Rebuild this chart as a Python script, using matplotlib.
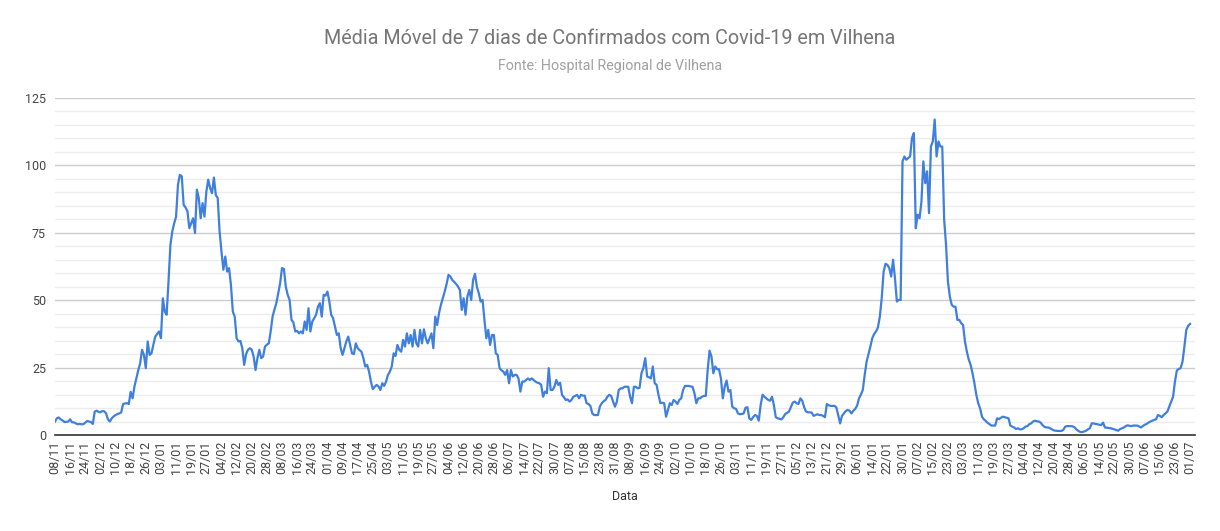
import matplotlib
matplotlib.use('Agg')
import matplotlib.pyplot as plt
import pandas as pd
import numpy as np

plt.rcParams['font.family'] = ['Roboto', 'DejaVu Sans']

# Média móvel de 7 dias, um valor por dia a partir de 08/11/2020
inicio = '2020-11-08'

media_2020 = [
    5.0, 6.2, 6.5, 5.8, 5.4, 4.8, 4.9, 5.0, 5.8, 4.7,
    4.7, 4.3, 4.0, 4.1, 4.0, 4.0, 4.6, 5.2, 5.0, 4.8,
    4.1, 8.7, 9.0, 8.6, 8.4, 8.9, 8.8, 8.0, 5.8, 5.0,
    6.2, 6.9, 7.4, 7.8, 8.0, 8.4, 11.5, 11.7, 11.8, 11.5,
    16.0, 13.6, 18.0, 21.0, 24.0, 26.5, 31.6, 29.7, 24.8, 34.7,
    29.7, 30.3, 33.5, 36.5,
]

media_2021 = [
    37.5, 38.4, 35.9, 50.7, 45.8, 44.6, 57.0, 70.5, 75.5, 78.5,
    81.0, 92.8, 96.5, 96.0, 85.4, 84.4, 83.0, 76.7, 78.6, 80.4,
    74.9, 91.0, 87.9, 80.4, 86.0, 81.0, 90.3, 94.7, 91.6, 89.7,
    95.5, 89.0, 87.9, 75.5, 68.0, 61.3, 66.2, 60.6, 61.9, 55.7,
    45.8, 43.9, 35.9, 34.7, 34.9, 32.2, 26.0, 30.0, 31.6, 32.2,
    31.6, 29.1, 24.1, 28.5, 31.6, 28.5, 29.1, 32.8, 33.5, 34.0,
    38.4, 43.9, 46.5, 48.9, 52.5, 56.3, 61.9, 61.6, 55.0, 52.0,
    50.1, 42.7, 41.8, 38.4, 38.6, 37.7, 38.4, 37.7, 42.1, 39.0,
    47.0, 38.4, 42.1, 43.3, 44.6, 47.6, 48.9, 43.9, 52.0, 51.7,
    53.2, 49.5, 44.6, 43.3, 40.2, 37.1, 37.7, 32.2, 29.7, 32.2,
    34.7, 36.5, 33.4, 30.3, 30.0, 34.0, 32.2, 31.5, 30.9, 28.5,
    25.4, 26.0, 23.5, 19.8, 17.0, 17.9, 18.6, 18.0, 16.7, 19.2,
    18.2, 19.8, 22.3, 23.5, 25.4, 30.3, 29.3, 33.4, 31.6, 30.9,
    35.3, 32.8, 37.7, 34.0, 37.1, 32.8, 39.0, 34.0, 32.8, 39.0,
    34.0, 39.2, 35.9, 34.0, 35.9, 37.7, 32.2, 43.9, 40.8, 45.2,
    48.3, 50.7, 53.2, 56.0, 59.4, 58.8, 57.5, 56.8, 56.0, 55.1,
    53.8, 46.4, 50.7, 44.6, 51.4, 53.8, 50.1, 57.5, 59.8, 55.0,
    52.6, 49.5, 50.1, 42.7, 35.9, 39.0, 33.4, 37.1, 37.1, 30.3,
    29.7, 24.8, 24.0, 23.5, 22.3, 24.1, 19.2, 24.1, 21.7, 22.3,
    22.3, 21.0, 16.1, 19.8, 19.8, 20.4, 21.0, 20.4, 21.0, 20.4,
    19.8, 19.4, 19.2, 18.6, 14.2, 16.1, 15.5, 24.8, 16.7, 16.7,
    17.9, 20.4, 18.6, 19.4, 14.9, 14.0, 13.0, 13.2, 12.4, 13.0,
    14.2, 14.5, 14.9, 13.6, 14.9, 14.6, 14.6, 11.8, 11.5, 10.8,
    8.0, 7.4, 7.4, 7.4, 10.5, 11.8, 12.5, 13.0, 14.2, 14.9,
    14.5, 12.4, 10.5, 12.4, 16.7, 17.3, 17.3, 17.9, 17.9, 17.9,
    14.2, 11.8, 17.9, 17.9, 17.3, 17.5, 22.9, 24.8, 28.5, 21.7,
    21.4, 21.0, 25.4, 19.2, 18.6, 14.9, 11.8, 12.0, 11.8, 6.8,
    9.3, 11.8, 11.1, 13.0, 12.4, 11.5, 13.0, 13.6, 16.7, 18.2,
    18.2, 18.2, 18.0, 17.9, 15.5, 11.8, 13.6, 13.6, 14.2, 14.5,
    14.5, 24.1, 31.3, 29.1, 22.9, 25.4, 24.4, 24.4, 21.0, 13.6,
    17.9, 20.2, 16.1, 16.7, 10.5, 9.9, 9.7, 8.0, 7.7, 7.8,
    8.0, 10.1, 10.3, 6.2, 5.6, 6.6, 7.4, 7.1, 5.3, 11.1,
    14.9, 14.2, 13.6, 13.0, 12.7, 14.2, 11.1, 6.6, 6.2, 6.0,
    5.8, 6.6, 7.8, 8.2, 8.7, 10.3, 12.0, 12.4, 11.8, 11.5,
    13.6, 12.7, 10.3, 8.7, 8.4, 8.4, 8.3, 7.1, 7.4, 7.7,
    7.4, 7.4, 7.1, 6.6, 11.5, 11.0, 10.8, 10.8, 10.8, 10.3,
    7.4, 4.3, 7.1, 8.0, 8.9,
]

media_2022 = [
    9.3, 9.0, 8.0, 9.0, 9.7, 10.9, 13.6, 15.0, 16.7, 22.3,
    27.2, 30.0, 32.8, 35.9, 37.5, 38.4, 39.9, 43.9, 50.7, 60.6,
    63.5, 63.1, 61.9, 58.8, 65.0, 58.2, 49.5, 50.1, 50.1, 101.5,
    103.3, 102.1, 102.7, 103.3, 110.1, 112.0, 76.7, 81.7, 80.4, 86.6,
    101.5, 93.4, 97.8, 82.3, 107.0, 108.9, 117.0, 103.3, 108.9, 107.0,
    107.0, 80.0, 70.5, 56.9, 51.4, 48.3, 47.6, 47.6, 42.7, 42.7,
    41.5, 40.8, 34.7, 30.9, 28.0, 26.0, 22.9, 19.2, 14.9, 11.8,
    9.9, 6.8, 5.8, 5.2, 4.5, 4.0, 3.5, 3.5, 3.5, 6.2,
    5.9, 6.4, 6.8, 6.6, 6.4, 6.2, 3.5, 3.1, 2.8, 2.2,
    2.5, 2.1, 2.1, 2.5, 3.1, 3.3, 4.0, 4.3, 5.0, 5.3,
    5.1, 5.0, 4.6, 3.7, 3.0, 2.8, 2.8, 2.5, 2.1, 1.7,
    1.6, 1.5, 1.5, 1.5, 1.9, 3.1, 3.3, 3.3, 3.3, 3.2,
    2.8, 2.0, 1.5, 1.1, 1.1, 1.3, 1.6, 2.1, 2.5, 4.3,
    4.3, 4.1, 4.0, 3.8, 3.7, 4.6, 2.8, 2.7, 2.6, 2.5,
    2.3, 2.1, 1.8, 1.6, 2.2, 2.5, 2.8, 3.3, 3.6, 3.4,
    3.3, 3.5, 3.5, 3.5, 3.2, 2.8, 3.3, 3.8, 4.1, 4.6,
    5.0, 5.3, 5.6, 5.8, 7.4, 7.1, 6.6, 7.4, 8.0, 8.7,
    10.5, 12.4, 14.2, 19.8, 23.9, 24.5, 24.8, 27.2, 32.8, 39.0,
    40.5, 41.2,
]

valores = media_2020 + media_2021 + media_2022
datas = pd.date_range(inicio, periods=len(valores), freq='D')

y_ticks = [0, 25, 50, 75, 100, 125]

fig = plt.figure(figsize=(12.2, 5.31), dpi=100)
ax = fig.add_axes([55 / 1220, 1 - 435 / 531, 1140 / 1220, 337 / 531])

ax.plot(datas, valores, color='#3f7fdd', lw=1.6, solid_joinstyle='round')

ax.set_xlim(datas[0], datas[-1] + pd.Timedelta(days=2.6))
ax.set_ylim(0, 125)
ax.set_yticks(y_ticks)
ax.set_yticks(np.arange(0, 126, 5), minor=True)
ax.set_xticks(datas[::8])
ax.set_xticklabels([d.strftime('%d/%m') for d in datas[::8]], rotation=90)

ax.grid(which='major', axis='y', color='#cccccc', lw=1)
ax.grid(which='minor', axis='y', color='#ececec', lw=1)
ax.set_axisbelow(True)

for s in ['top', 'right', 'left']:
    ax.spines[s].set_visible(False)
ax.spines['bottom'].set_color('#333333')
ax.spines['bottom'].set_linewidth(1.2)

ax.tick_params(axis='y', which='both', length=0, pad=6.5, labelsize=9, labelcolor='#444444')
ax.tick_params(axis='x', length=0, pad=4, labelsize=9, labelcolor='#444444')

fig.text(0.5, 1 - 38 / 531, 'Média Móvel de 7 dias de Confirmados com Covid-19 em Vilhena',
         ha='center', va='center', fontsize=14.2, color='#757575')
fig.text(0.5, 1 - 66 / 531, 'Fonte: Hospital Regional de Vilhena',
         ha='center', va='center', fontsize=10.3, color='#a0a0a0')
fig.text(625 / 1220, 1 - 496 / 531, 'Data', ha='center', va='center',
         fontsize=9, color='#333333')

plt.savefig('out.png', dpi=100)
